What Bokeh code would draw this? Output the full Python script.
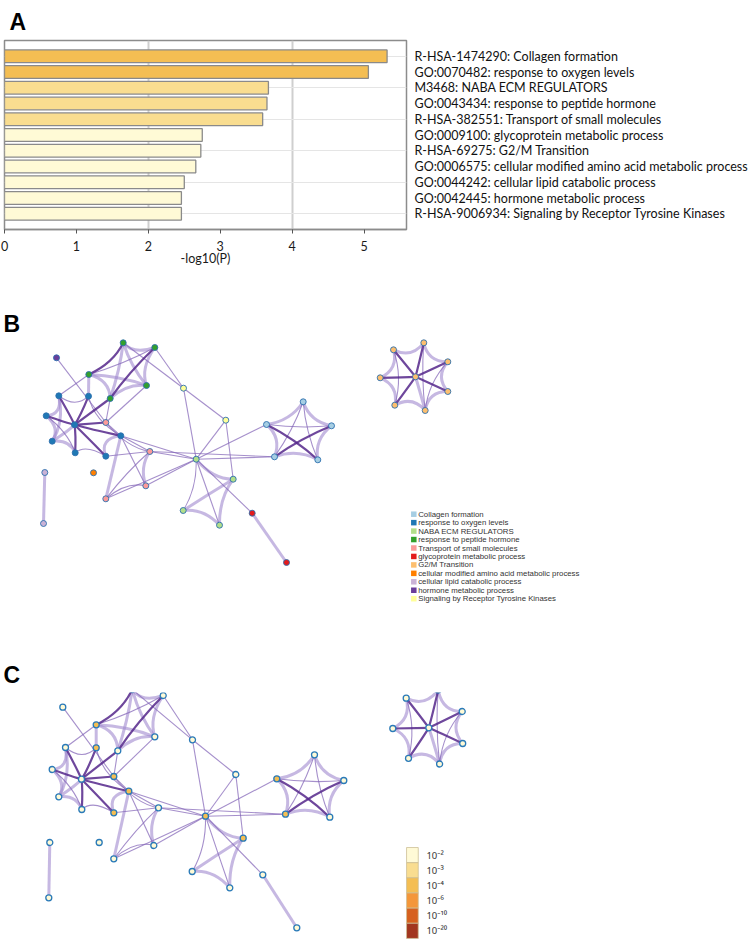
import numpy as np
from bokeh.plotting import figure
from bokeh.models import Range1d, LinearAxis, FixedTicker, Label, ColumnDataSource
from bokeh.layouts import column
from bokeh.embed import file_html
from bokeh.resources import INLINE
from bokeh.core.properties import value

# ---------------- data: panel A ----------------
terms = [
    "R-HSA-1474290: Collagen formation",
    "GO:0070482: response to oxygen levels",
    "M3468: NABA ECM REGULATORS",
    "GO:0043434: response to peptide hormone",
    "R-HSA-382551: Transport of small molecules",
    "GO:0009100: glycoprotein metabolic process",
    "R-HSA-69275: G2/M Transition",
    "GO:0006575: cellular modified amino acid metabolic process",
    "GO:0044242: cellular lipid catabolic process",
    "GO:0042445: hormone metabolic process",
    "R-HSA-9006934: Signaling by Receptor Tyrosine Kinases",
]
neglogp = [5.32, 5.06, 3.67, 3.65, 3.59, 2.75, 2.73, 2.66, 2.50, 2.46, 2.46]
x_ticks = [0, 1, 2, 3, 4, 5]
grid_ticks = [2, 4]

# p-value colour bins (legend of panel C)
pval_labels = ["10⁻²", "10⁻³", "10⁻⁴", "10⁻⁶", "10⁻¹⁰", "10⁻²⁰"]
pval_cuts = [2, 3, 4, 6, 10, 20]
pval_colors = ["#FFFAD6", "#F9DD90", "#F4BE53", "#F4973A", "#D6611E", "#A2371F"]

# ---------------- data: networks ----------------
cluster_names = [
    "Collagen formation", "response to oxygen levels", "NABA ECM REGULATORS",
    "response to peptide hormone", "Transport of small molecules",
    "glycoprotein metabolic process", "G2/M Transition",
    "cellular modified amino acid metabolic process", "cellular lipid catabolic process",
    "hormone metabolic process", "Signaling by Receptor Tyrosine Kinases",
]
cluster_colors = ["#A6CEE3", "#1F78B4", "#B2DF8A", "#33A02C", "#FB9A99", "#E31A1C",
                  "#FDBF6F", "#FF7F00", "#CAB2D6", "#6A3D9A", "#FFFF99"]

node_id = ["m1", "g1", "g2", "g3", "g4", "g5",
           "b1", "b2", "b3", "b4", "b5", "b6", "b7", "b8",
           "p1", "p2", "p3", "p4", "y1", "y2",
           "h", "n2", "n3", "n4", "r1", "r2", "l1", "l2", "o1",
           "c1", "c2", "c3", "c4", "c5",
           "x0", "x1", "x2", "x3", "x4", "x5", "x6", "x7"]
node_cluster = [9, 3, 3, 3, 3, 3,
                1, 1, 1, 1, 1, 1, 1, 1,
                4, 4, 4, 4, 10, 10,
                2, 2, 2, 2, 5, 5, 8, 8, 7,
                0, 0, 0, 0, 0,
                6, 6, 6, 6, 6, 6, 6, 6]
# layout of network B
node_bx = [56.0, 122.7, 154.3, 88.3, 146.0, 109.7,
           58.3, 88.0, 45.7, 74.0, 120.3, 51.7, 74.7, 105.3,
           105.3, 149.3, 145.3, 105.3, 183.0, 225.3,
           195.7, 232.7, 182.7, 219.0, 251.7, 286.0, 44.3, 43.0, 93.0,
           266.0, 302.7, 331.0, 317.3, 274.0,
           415.0, 423.3, 393.0, 447.3, 379.7, 447.3, 394.3, 424.7]
node_by = [357.3, 342.3, 347.0, 374.0, 385.0, 398.0,
           395.3, 395.7, 415.3, 424.3, 435.3, 440.7, 452.3, 455.7,
           422.0, 451.0, 485.3, 498.3, 387.7, 419.7,
           458.7, 478.7, 510.0, 524.7, 512.7, 562.0, 472.0, 523.0, 472.3,
           424.0, 401.3, 425.3, 459.3, 456.3,
           376.3, 342.3, 349.3, 361.3, 377.3, 391.0, 404.7, 410.0]
# layout of network C
node_cx = [62.3, 131.7, 162.7, 95.7, 154.3, 117.3,
           65.0, 95.7, 51.7, 81.0, 128.3, 58.3, 81.3, 113.3,
           113.3, 158.0, 153.3, 113.3, 192.0, 235.3,
           205.0, 242.7, 191.7, 229.3, 262.3, 296.3, 49.3, 48.3, 98.7,
           276.3, 314.0, 343.3, 329.3, 285.0,
           428.3, 437.7, 405.7, 461.7, 392.3, 462.2, 408.0, 439.1]
node_cy = [706.7, 689.0, 695.0, 724.3, 736.3, 750.3,
           747.0, 747.3, 769.0, 778.7, 790.7, 796.3, 809.0, 812.3,
           776.0, 807.3, 845.0, 858.3, 739.3, 774.0,
           815.7, 837.7, 871.0, 887.3, 874.3, 927.3, 842.0, 897.3, 842.0,
           778.3, 754.3, 780.0, 816.7, 813.7,
           727.3, 689.5, 697.7, 711.0, 728.0, 743.0, 757.8, 763.5]
# p-value bin of each node (index into pval_colors)
node_level = [0, 0, 0, 2, 0, 0,
              0, 2, 0, 0, 2, 0, 0, 2,
              2, 0, 0, 0, 0, 0,
              2, 2, 0, 0, 0, 0, 0, 0, 0,
              2, 0, 0, 0, 2,
              0, 0, 0, 0, 0, 0, 0, 0]

# edges: (node, node, strength class) 0 = thin, 1 = broad light, 2 = strong
edges = [
    ("g1", "g2", 1), ("g1", "g3", 2), ("g1", "g4", 1), ("g1", "g5", 1), ("g2", "g4", 1),
    ("g2", "g5", 2), ("g3", "g4", 1), ("g3", "g5", 1), ("g4", "g5", 1), ("g2", "g3", 0),
    ("g3", "b1", 0), ("g3", "b2", 1), ("g5", "b4", 2), ("g5", "p1", 0), ("g4", "p1", 0),
    ("g1", "y1", 0), ("g2", "y1", 0), ("m1", "p1", 0),
    ("b4", "b1", 2), ("b4", "b2", 2), ("b4", "b3", 2), ("b4", "b5", 2), ("b4", "b6", 1),
    ("b4", "b7", 2), ("b4", "b8", 2), ("b4", "p1", 2),
    ("b1", "b3", 1), ("b3", "b6", 1), ("b6", "b7", 1), ("b7", "b8", 0), ("b1", "b6", 1),
    ("b3", "b7", 0), ("b1", "b2", 0), ("b2", "b5", 0), ("b5", "b8", 1), ("b5", "p1", 0),
    ("b8", "p2", 0), ("b5", "p2", 0), ("b5", "p4", 1), ("b5", "p3", 0),
    ("p2", "p3", 1), ("p3", "p4", 0), ("p2", "p4", 0), ("p1", "p2", 0),
    ("p2", "h", 0), ("b5", "h", 0), ("p4", "h", 0), ("p3", "h", 0), ("p2", "c5", 0),
    ("y1", "h", 0), ("y2", "h", 0), ("y1", "y2", 0), ("y2", "n2", 0),
    ("h", "n2", 1), ("h", "n3", 0), ("h", "n4", 0), ("n2", "n3", 1), ("n2", "n4", 1),
    ("n3", "n4", 1), ("h", "r1", 0), ("r1", "r2", 1), ("h", "c1", 0), ("h", "c5", 0),
    ("c1", "c2", 1), ("c2", "c3", 1), ("c3", "c4", 1), ("c4", "c5", 1), ("c5", "c1", 1),
    ("c1", "c3", 0), ("c1", "c4", 2), ("c2", "c4", 0), ("c2", "c5", 0), ("c3", "c5", 2),
    ("l1", "l2", 1),
    ("x0", "x1", 2), ("x0", "x2", 2), ("x0", "x3", 2), ("x0", "x4", 2), ("x0", "x5", 2),
    ("x0", "x6", 2), ("x0", "x7", 1),
    ("x1", "x2", 1), ("x1", "x3", 1), ("x3", "x5", 1), ("x5", "x7", 1), ("x7", "x6", 1),
    ("x6", "x4", 1), ("x4", "x2", 1), ("x2", "x6", 0), ("x1", "x7", 0), ("x3", "x7", 0),
]

# ---------------- styles ----------------
FONT = "Lato"
LEG_FONT = "Liberation Sans"
EDGE_STYLE = {0: ("#876ABA", 1.1, 0.75), 1: ("#A089CE", 3.0, 0.6), 2: ("#55278B", 2.2, 0.85)}
EDGE_ORDER = {1: 0, 0: 1, 2: 2}
BEND = 0.4


def pbin(v):
    lvl = 0
    for i, c in enumerate(pval_cuts):
        if v >= c:
            lvl = i
    return lvl


def letter_title(p, text, offset, standoff):
    p.title.text = text
    p.title.text_font = LEG_FONT
    p.title.text_font_size = "23px"
    p.title.text_font_style = "bold"
    p.title.text_color = "black"
    p.title.align = "left"
    p.title.offset = offset
    p.title.standoff = standoff


# ---------------- panel A ----------------
pA = figure(width=750, height=298, x_range=Range1d(0, 5.59), y_range=Range1d(11, -1),
            output_backend="svg", toolbar_location=None, y_axis_location=None,
            frame_align=False,
            min_border_left=4, min_border_right=338, min_border_top=40, min_border_bottom=69,
            background_fill_color="white", border_fill_color="white")
letter_title(pA, "A", 5, 12)
pA.outline_line_color = "#8c8c8c"
pA.outline_line_width = 1.5
bar_src = ColumnDataSource(dict(y=list(range(len(terms))), right=neglogp,
                                color=[pval_colors[pbin(v)] for v in neglogp]))
pA.hbar(y="y", left=0, right="right", height=0.8, fill_color="color",
        line_color="#8a8a8a", line_width=1.3, source=bar_src)

pA.xgrid.ticker = FixedTicker(ticks=grid_ticks)
pA.xgrid.grid_line_color = "#cfcfcf"
pA.xgrid.grid_line_width = 2
xa = pA.xaxis[0]
xa.ticker = FixedTicker(ticks=x_ticks)
xa.axis_label = "-log10(P)"
xa.axis_label_text_font = FONT
xa.axis_label_text_font_style = "normal"
xa.axis_label_text_font_size = "12.5px"
xa.axis_label_text_color = "#1a1a1a"
xa.axis_label_standoff = -3
xa.major_label_text_font = FONT
xa.major_label_text_font_size = "12.5px"
xa.major_label_text_color = "#1a1a1a"
xa.major_label_standoff = 7
xa.axis_line_color = "#8c8c8c"
xa.axis_line_width = 1.5
xa.major_tick_line_color = "#555555"
xa.major_tick_out = 4
xa.major_tick_in = 0
xa.minor_tick_line_color = None

ya = LinearAxis(ticker=FixedTicker(ticks=list(range(len(terms)))),
                major_label_overrides={i: t for i, t in enumerate(terms)},
                axis_line_color=None, major_tick_line_color=None, minor_tick_line_color=None,
                major_label_standoff=2, major_label_text_font=FONT,
                major_label_text_font_size="12.5px", major_label_text_color="#111111")
pA.add_layout(ya, "right")


# ---------------- network helpers ----------------
idx = {n: i for i, n in enumerate(node_id)}


def edge_source(xs, ys):
    cen = {}
    for k in set(node_cluster):
        members = [i for i, c in enumerate(node_cluster) if c == k]
        cen[k] = (np.mean([xs[i] for i in members]), np.mean([ys[i] for i in members]))
    d = dict(x0=[], y0=[], x1=[], y1=[], cx=[], cy=[], color=[], width=[], alpha=[])
    for a, b, w in sorted(edges, key=lambda e: EDGE_ORDER[e[2]]):
        i, j = idx[a], idx[b]
        mx, my = (xs[i] + xs[j]) / 2, (ys[i] + ys[j]) / 2
        if node_cluster[i] == node_cluster[j]:
            gx, gy = cen[node_cluster[i]]
            mx, my = mx + BEND * (gx - mx), my + BEND * (gy - my)
        col, lw, al = EDGE_STYLE[w]
        d["x0"].append(xs[i]); d["y0"].append(ys[i])
        d["x1"].append(xs[j]); d["y1"].append(ys[j])
        d["cx"].append(mx); d["cy"].append(my)
        d["color"].append(col); d["width"].append(lw); d["alpha"].append(al)
    return ColumnDataSource(d)


def net_figure(height, yr, top):
    p = figure(width=750, height=height, x_range=Range1d(0, 750), y_range=yr,
               output_backend="svg", toolbar_location=None,
               x_axis_location=None, y_axis_location=None, frame_align=False,
               min_border_left=0, min_border_right=0, min_border_bottom=0, min_border_top=top,
               background_fill_color="white", border_fill_color="white")
    p.outline_line_color = None
    p.xgrid.visible = False
    p.ygrid.visible = False
    return p


# ---------------- panel B ----------------
pB = net_figure(352, Range1d(650, 298), 0)
pB.quadratic(x0="x0", y0="y0", x1="x1", y1="y1", cx="cx", cy="cy", line_color="color",
             line_width="width", line_alpha="alpha", source=edge_source(node_bx, node_by))
pB.scatter(x=node_bx, y=node_by, size=6,
           fill_color=[cluster_colors[c] for c in node_cluster],
           line_color="#2C6FAE", line_width=0.9)
LB_X, LB_Y0, LB_DY = 413.3, 513.7, 8.45
lb_y = [LB_Y0 + k * LB_DY for k in range(len(cluster_names))]
pB.rect(x=[LB_X] * len(cluster_names), y=lb_y, width=5.5, height=5.5,
        fill_color=cluster_colors, line_color=None)
pB.text(x=[LB_X + 4.4] * len(cluster_names), y=lb_y, text=cluster_names,
        text_font=value(LEG_FONT), text_font_size="7.8px", text_baseline="middle",
        text_color="#333333")
pB.add_layout(Label(x=3, y=323, text="B", text_font=LEG_FONT, text_font_size="23px",
                    text_font_style="bold", text_baseline="alphabetic", text_color="black"))

# ---------------- panel C ----------------
pC = net_figure(290, Range1d(940, 692), 42)
letter_title(pC, "C", 3, 9)
pC.quadratic(x0="x0", y0="y0", x1="x1", y1="y1", cx="cx", cy="cy", line_color="color",
             line_width="width", line_alpha="alpha", source=edge_source(node_cx, node_cy))
pC.scatter(x=node_cx, y=node_cy, size=6,
           fill_color=[pval_colors[l] for l in node_level],
           line_color="#2A7AB8", line_width=1.3)
LC_X, LC_Y0, LC_DY = 411.9, 854.6, 15.15
lc_y = [LC_Y0 + k * LC_DY for k in range(len(pval_labels))]
pC.rect(x=[LC_X] * len(pval_labels), y=lc_y, width=11.7, height=LC_DY,
        fill_color=pval_colors, line_color="#cdbf95", line_width=0.8)
pC.text(x=[LC_X + 14] * len(pval_labels), y=lc_y, text=pval_labels,
        text_font=value("Noto Sans"), text_font_size="9.5px", text_baseline="middle",
        text_color="#333333")

layout = column(pA, pB, pC, spacing=0)
open("out.html", "w").write(file_html(layout, INLINE))
